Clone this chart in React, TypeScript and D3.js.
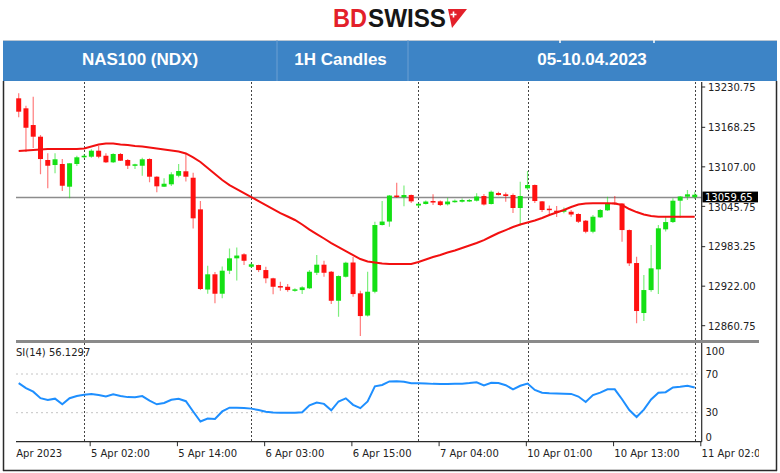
import React from "react";
import * as d3 from "d3";

const opens = [13213.2,13197.7,13171.8,13153.7,13117.6,13109.8,13111.4,13076.2,13111.4,13121.8,13122.7,13132.0,13124.2,13114.0,13126.9,13117.6,13108.7,13108.7,13119.1,13091.7,13076.2,13079.9,13093.2,13100.1,13090.1,13041.1,12916.8,12940.4,12910.3,12946.0,12965.2,12971.4,12952.1,12954.8,12947.0,12934.2,12922.2,12921.1,12914.9,12916.0,12918.7,12942.8,12955.3,12944.4,12899.4,12936.6,12958.7,12910.9,12876.5,12913.4,13016.8,13022.2,13062.5,13059.7,13063.3,13047.0,13049.4,13054.0,13053.5,13048.9,13052.9,13052.9,13054.0,13054.5,13061.8,13049.4,13066.4,13064.4,13063.3,13043.2,13073.7,13078.8,13053.5,13042.1,13039.0,13037.4,13037.4,13033.9,13023.5,13006.4,13028.7,13039.6,13051.4,13050.1,13009.0,12957.9,12880.4,12916.0,12948.1,13010.1,13021.4,13054.5,13060.7,13060.0];
const highs = [13221.0,13201.8,13215.7,13156.3,13128.0,13128.0,13119.1,13112.5,13124.2,13126.4,13134.2,13139.3,13128.0,13128.0,13128.4,13119.1,13111.8,13121.1,13120.2,13092.5,13089.2,13098.5,13111.4,13126.9,13097.9,13054.0,12953.7,12943.9,12952.5,12980.4,12981.9,12972.9,12957.9,12955.3,12952.1,12935.0,12928.9,12925.3,12918.7,12922.0,12947.0,12970.3,12961.4,12945.5,12938.7,12959.9,12967.2,12914.9,12944.4,13021.9,13054.0,13063.3,13082.4,13078.0,13064.1,13050.1,13054.8,13064.4,13054.8,13059.1,13056.3,13057.9,13057.1,13065.9,13064.9,13070.3,13068.4,13067.2,13065.6,13083.9,13100.5,13079.6,13054.0,13047.0,13046.3,13043.9,13040.1,13034.9,13024.6,13032.3,13041.6,13060.7,13061.8,13051.0,13010.0,12967.6,12939.3,12985.8,13016.8,13030.8,13058.2,13061.8,13071.1,13068.5];
const lows = [13183.8,13130.0,13136.2,13095.4,13073.7,13097.0,13069.5,13058.2,13108.3,13120.2,13121.1,13120.2,13112.9,13112.9,13116.0,13103.6,13103.6,13093.2,13083.0,13067.5,13075.7,13077.3,13090.8,13084.2,13011.4,12916.0,12910.3,12895.4,12903.2,12940.8,12930.8,12954.8,12950.1,12943.9,12926.4,12909.4,12914.9,12913.4,12913.4,12909.8,12917.6,12939.3,12936.6,12894.3,12874.6,12935.4,12905.6,12844.7,12874.9,12910.9,13016.0,13014.2,13058.7,13045.8,13050.9,13043.2,13048.6,13047.8,13046.3,13047.0,13051.4,13051.7,13052.5,13053.2,13047.0,13048.6,13062.5,13052.9,13035.4,13016.0,13071.1,13050.9,13037.0,13032.3,13029.2,13034.9,13029.7,13019.9,13003.9,13003.9,13027.6,13038.5,13047.8,12990.9,12953.2,12864.4,12868.0,12913.4,12909.8,13006.7,13019.9,13027.6,13055.6,13057.0];
const closes = [13192.5,13167.6,13153.7,13119.1,13108.7,13118.7,13077.7,13112.5,13121.8,13124.2,13132.0,13122.7,13114.0,13126.9,13116.5,13108.7,13110.9,13118.7,13091.7,13076.8,13080.8,13095.4,13100.5,13091.7,13027.2,12917.6,12940.4,12910.3,12946.0,12965.2,12969.5,12961.4,12955.9,12947.0,12934.2,12921.1,12920.2,12916.0,12917.1,12920.2,12944.4,12955.3,12942.8,12899.4,12937.7,12958.4,12909.8,12875.7,12913.4,13016.8,13022.2,13062.5,13060.2,13063.3,13053.5,13049.8,13053.2,13052.0,13047.8,13053.2,13054.5,13055.6,13055.6,13061.0,13048.6,13068.4,13063.3,13061.8,13043.2,13061.8,13078.8,13054.0,13040.1,13040.1,13037.0,13040.1,13033.1,13021.9,13006.4,13029.7,13040.1,13050.4,13049.4,13009.0,12957.4,12883.5,12916.0,12949.7,13011.7,13021.4,13054.5,13061.0,13064.4,13063.8];
const maValues = [13131.5,13132.3,13133.1,13133.9,13134.6,13134.6,13134.6,13134.6,13134.6,13135.4,13138.5,13141.6,13143.2,13143.2,13141.6,13140.8,13139.3,13138.5,13136.9,13135.4,13133.9,13132.3,13130.8,13127.7,13121.5,13114.5,13105.2,13095.9,13086.6,13078.8,13072.6,13066.4,13060.2,13054.0,13047.8,13041.6,13035.4,13030.0,13024.6,13017.6,13009.8,13002.8,12995.9,12988.9,12982.7,12976.5,12970.3,12964.1,12960.2,12958.7,12957.1,12956.3,12956.3,12956.3,12956.3,12959.4,12963.3,12967.2,12970.3,12974.2,12977.3,12981.2,12985.0,12988.9,12993.5,12999.0,13004.4,13009.0,13013.7,13017.6,13020.7,13023.8,13027.7,13032.3,13036.2,13040.1,13044.7,13048.6,13050.1,13050.5,13050.5,13050.5,13050.1,13047.8,13041.6,13036.9,13033.1,13030.8,13029.7,13029.7,13029.7,13029.7,13029.7,13029.7];
const rsiValues = [60.6,55.5,51.7,45,43.1,44.5,38.7,45,47.3,48.6,49.4,48.2,46.8,49,47.3,46.1,45.9,47.2,42.4,38.7,40,43.4,44.4,41.9,31.2,20.9,24,23.5,31.3,35.2,35.2,34.9,34.2,32.7,30.9,30.3,30,30,30,30.5,37.7,40.5,39.1,32.4,41.6,44.8,38.1,34.7,41.6,57.3,58.7,62.3,62.5,62,60.5,60.4,60.3,59.8,59.7,59.7,59.9,60,60.6,61.4,58.3,60.9,60.6,58.4,54.2,57.8,60.1,53.5,50.7,50,49.8,49.6,49.4,46.7,41.1,48.2,50.8,54.2,54.2,43.9,32.7,25.5,33.2,43.7,50.7,51.2,56.1,56.8,57.8,56.13];

const priceTicks = [13230.75, 13168.25, 13107.0, 13045.75, 12983.25, 12922.0, 12860.75];
const rsiTicks = [100, 70, 30, 0];
const rsiLevels = [70, 30];
const timeLabels = ["4 Apr 2023", "5 Apr 02:00", "5 Apr 14:00", "6 Apr 03:00", "6 Apr 15:00", "7 Apr 04:00", "10 Apr 01:00", "10 Apr 13:00", "11 Apr 02:00"];
const timeLabelBars = [-1.6, 10, 22, 34, 46, 58, 70, 82, 94];
const separatorBars = [9, 32, 55, 70, 93];
const lastPrice = 13059.65;
const rsiLabel = "RSI(14) 56.1297";
const headerCells = ["NAS100 (NDX)", "1H Candles", "05-10.04.2023"];

const UP = "#14e014";
const DOWN = "#ff1010";
const AXIS_FONT = "'DejaVu Sans', Verdana, sans-serif";

export default function App() {
  const plotL = 16, plotR = 701.7;
  const mainTop = 82, mainBot = 340;
  const rsiTop = 343, rsiBot = 441.7;
  const x = d3.scaleLinear().domain([-0.37, 94]).range([plotL, 702]);
  const y = d3.scaleLinear().domain([12860.75, 13230.75]).range([325.7, 87]);
  const r = d3.scaleLinear().domain([0, 100]).range([rsiBot, 345]);
  const maLine = d3.line<number>().x((_, i) => x(i)).y((d) => y(d));
  const rsiLine = d3.line<number>().x((_, i) => x(i)).y((d) => r(d));
  const bodyW = 5;

  const headerX = [3, 277, 408, 777];

  return (
    <svg width={780} height={473} style={{ position: "absolute", left: 0, top: 0, background: "#fff" }}
      xmlns="http://www.w3.org/2000/svg">
      <defs>
        <clipPath id="mainClip"><rect x={plotL} y={mainTop} width={plotR - plotL} height={mainBot - mainTop} /></clipPath>
        <clipPath id="rsiClip"><rect x={plotL} y={rsiTop} width={plotR - plotL} height={rsiBot - rsiTop} /></clipPath>
        <clipPath id="winClip"><rect x={plotL} y={40} width={759 - plotL} height={430} /></clipPath>
      </defs>
      <rect x={0} y={0} width={780} height={473} fill="#fff" />

      {/* Logo */}
      <text x={333} y={27} fontFamily="'Liberation Sans', Arial, sans-serif" fontWeight="bold" fontSize={26}
        fill="#e3202a" textLength={34} lengthAdjust="spacingAndGlyphs">BD</text>
      <text x={368} y={27} fontFamily="'Liberation Sans', Arial, sans-serif" fontWeight="bold" fontSize={26}
        fill="#161616" textLength={78} lengthAdjust="spacingAndGlyphs">SWISS</text>
      <polygon points="448,9 467,9 452,28" fill="#e3202a" />
      <path d="M453.5,11.5 v6 M450.5,14.5 h6" stroke="#fff" strokeWidth={1.6} />

      {/* Header bar */}
      <rect x={3} y={40} width={774} height={41} fill="#3d84c6" />
      <line x1={3} x2={777} y1={40.5} y2={40.5} stroke="#b9c6d3" strokeWidth={1} />
      {[277, 408].map((d) => (
        <line key={d} x1={d} x2={d} y1={40} y2={81} stroke="#6c9fd2" strokeWidth={1} />
      ))}
      {[560, 654].map((d) => (
        <line key={d} x1={d} x2={d} y1={40} y2={43} stroke="#ffffff" strokeWidth={1.5} />
      ))}
      {headerCells.map((t, i) => (
        <text key={t} x={i === 2 ? 592 : (headerX[i] + headerX[i + 1]) / 2 + (i === 0 ? 0 : -2)} y={65}
          textAnchor="middle" fontFamily="'Liberation Sans', Arial, sans-serif" fontWeight="bold"
          fontSize={17} fill="#ffffff">{t}</text>
      ))}

      {/* Outer frame */}
      <line x1={3.5} x2={3.5} y1={81} y2={471} stroke="#2a2a2a" strokeWidth={1.5} />
      <line x1={776.5} x2={776.5} y1={81} y2={471} stroke="#2a2a2a" strokeWidth={1.5} />
      <line x1={3} x2={777} y1={470.5} y2={470.5} stroke="#2a2a2a" strokeWidth={1.5} />

      {/* Day separators */}
      {separatorBars.map((b) => (
        <g key={b}>
          <line x1={Math.round(x(b)) + 0.5} x2={Math.round(x(b)) + 0.5} y1={mainTop} y2={mainBot}
            stroke="#444" strokeDasharray="2,2" strokeWidth={1} />
          <line x1={Math.round(x(b)) + 0.5} x2={Math.round(x(b)) + 0.5} y1={rsiTop} y2={rsiBot}
            stroke="#444" strokeDasharray="2,2" strokeWidth={1} />
        </g>
      ))}

      {/* Price line */}
      <line x1={plotL} x2={plotR} y1={y(lastPrice)} y2={y(lastPrice)} stroke="#8c8c8c" strokeWidth={1.5} />

      {/* Candles */}
      <g clipPath="url(#mainClip)">
        {opens.map((o, i) => {
          const c = closes[i];
          const up = c >= o;
          const col = up ? UP : DOWN;
          const cx = x(i);
          const top = y(Math.max(o, c));
          const bot = y(Math.min(o, c));
          return (
            <g key={i}>
              <line x1={cx} x2={cx} y1={y(highs[i])} y2={y(lows[i])} stroke={col} strokeOpacity={0.55} strokeWidth={1.2} />
              <rect x={cx - bodyW / 2} y={top} width={bodyW} height={Math.max(bot - top, 1.5)} fill={col} />
            </g>
          );
        })}
        <path d={maLine(maValues) || ""} fill="none" stroke="#f21010" strokeWidth={2} />
      </g>

      {/* Main panel right border */}
      <line x1={plotR} x2={plotR} y1={mainTop} y2={mainBot} stroke="#2a2a2a" strokeWidth={1.2} />

      {/* Price axis */}
      {priceTicks.map((p) => (
        <g key={p}>
          <line x1={plotR} x2={plotR + 3.5} y1={y(p)} y2={y(p)} stroke="#2a2a2a" />
          <text x={708} y={y(p) + (p === 13045.75 ? 5 : 3.8)} fontFamily={AXIS_FONT} fontSize={10} fill="#222">{p.toFixed(2)}</text>
        </g>
      ))}
      <rect x={702.5} y={y(lastPrice) - 5.8} width={55.5} height={10.8} fill="#000" />
      <text x={705} y={y(lastPrice) + 3.6} fontFamily={AXIS_FONT} fontSize={10} fill="#fff">{lastPrice.toFixed(2)}</text>

      {/* Panel separator */}
      <rect x={plotL} y={340} width={759 - plotL} height={3} fill="#8a8a8a" />

      {/* RSI panel */}
      {rsiLevels.map((v) => (
        <line key={v} x1={plotL} x2={plotR} y1={r(v)} y2={r(v)} stroke="#c4c4c4" strokeDasharray="2,3" />
      ))}
      <g clipPath="url(#rsiClip)">
        <path d={rsiLine(rsiValues) || ""} fill="none" stroke="#1e8fff" strokeWidth={2} />
      </g>
      <g clipPath="url(#winClip)">
        <text x={9} y={356} fontFamily={AXIS_FONT} fontSize={10} fill="#222">{rsiLabel}</text>
      </g>
      <line x1={plotR} x2={plotR} y1={rsiTop} y2={rsiBot} stroke="#2a2a2a" strokeWidth={1.2} />
      {rsiTicks.map((v) => {
        const ty = Math.min(Math.max(r(v), 351), 437);
        return (
          <text key={v} x={705.5} y={ty + 3.8} fontFamily={AXIS_FONT} fontSize={10} fill="#222">{v}</text>
        );
      })}

      {/* Time axis */}
      <line x1={plotL} x2={plotR} y1={rsiBot} y2={rsiBot} stroke="#2a2a2a" strokeWidth={1.2} />
      <g clipPath="url(#winClip)">
        {timeLabels.map((t, i) => {
          const tx = x(timeLabelBars[i]) - 1.2;
          return (
            <g key={t}>
              {i > 0 && <line x1={tx} x2={tx} y1={rsiBot} y2={rsiBot + 4.5} stroke="#2a2a2a" />}
              <text x={tx + 0.8} y={457} fontFamily={AXIS_FONT} fontSize={10} fill="#222">{t}</text>
            </g>
          );
        })}
      </g>
    </svg>
  );
}
